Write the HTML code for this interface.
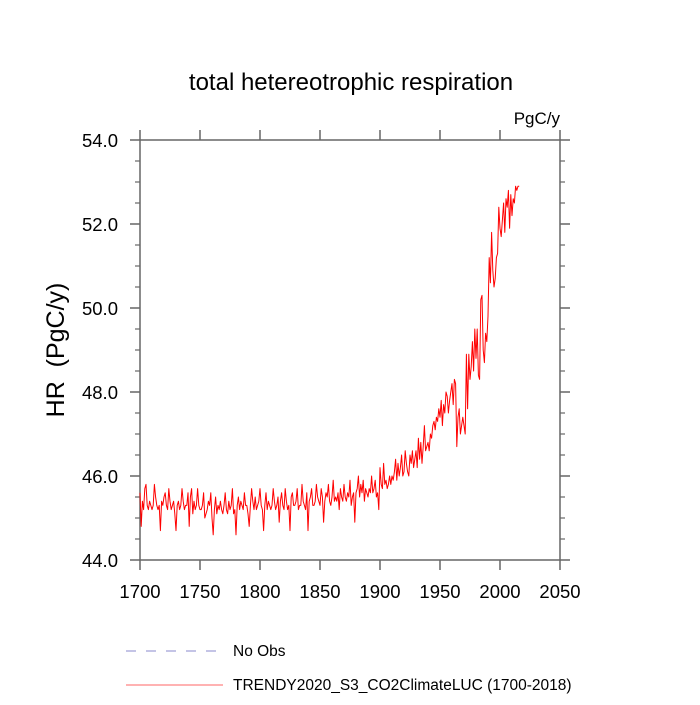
<!DOCTYPE html>
<html><head><meta charset="utf-8"><style>
body{margin:0;background:#fff;}
svg text{font-family:"Liberation Sans",sans-serif;fill:#000;}
</style></head><body>
<svg id="chart" width="700" height="700" viewBox="0 0 700 700" xmlns="http://www.w3.org/2000/svg">
<text x="351" y="90" font-size="24" text-anchor="middle">total hetereotrophic respiration</text>
<text x="560" y="124" font-size="17" text-anchor="end">PgC/y</text>
<text transform="translate(64,350) rotate(-90)" font-size="25" text-anchor="middle" xml:space="preserve">HR  (PgC/y)</text>
<g id="axes"></g>
<polyline id="series" fill="none" stroke="#ff0000" stroke-width="1" stroke-linejoin="round"/>
<g>
<line x1="126" y1="651" x2="220" y2="651" stroke="#8888cc" stroke-dasharray="10,10" stroke-width="1"/>
<text x="233" y="656" font-size="15.5">No Obs</text>
<line x1="126" y1="685" x2="223" y2="685" stroke="#ff6666" stroke-width="1"/>
<text x="233" y="690" font-size="15.5">TRENDY2020_S3_CO2ClimateLUC (1700-2018)</text>
</g>
</svg>
<script>
const startYear = 1700;
const hrValues = [
45.6,44.8,45.4,45.2,45.7,45.8,45.3,45.2,45.4,45.3,
45.2,45.3,45.8,45.5,45.3,45.2,45.3,44.7,45.4,45.3,
45.5,45.6,45.3,45.2,45.7,45.4,45.2,45.3,45.4,45.1,
44.7,45.3,45.4,45.2,45.3,45.7,45.4,45.2,45.3,45.3,
45.6,44.8,45.5,45.7,45.1,45.4,45.2,45.3,45.7,45.3,
45.2,45.2,45.3,45.6,45.0,45.1,45.2,45.4,45.3,45.6,
45.0,44.6,45.2,45.5,45.1,45.3,45.2,45.4,45.2,45.1,
45.3,45.6,45.2,45.1,45.4,45.2,45.3,45.7,45.1,45.2,
44.6,45.3,45.5,45.2,45.4,45.3,45.2,45.6,45.3,45.3,
45.1,44.8,45.3,45.7,45.4,45.2,45.5,45.2,45.3,45.4,
45.7,45.3,45.2,44.7,45.3,45.6,45.2,45.4,45.3,45.2,
45.3,45.7,45.4,45.2,45.3,45.5,44.9,45.4,45.6,45.3,
45.2,45.7,45.4,45.2,45.3,44.7,45.5,45.6,45.3,45.3,
45.4,45.7,45.2,45.3,45.3,45.8,45.4,45.3,45.2,45.6,
44.7,45.4,45.5,45.7,45.3,45.3,45.4,45.8,45.5,45.4,
45.3,45.7,45.5,44.9,45.4,45.6,45.5,45.8,45.4,45.3,
45.5,45.9,45.4,45.5,45.4,45.6,45.2,45.7,45.5,45.4,
45.8,45.5,45.4,45.6,45.5,45.9,45.3,45.5,45.6,44.9,
45.6,45.7,46.0,45.5,45.8,45.6,45.9,45.4,45.7,45.6,
45.5,45.7,45.6,46.0,45.6,45.7,45.9,45.5,45.6,45.2,
46.2,45.8,45.7,46.3,45.8,45.9,45.7,45.8,46.0,45.8,
46.0,45.9,46.1,46.4,45.9,46.3,46.0,46.2,46.5,46.0,
46.1,46.6,46.3,46.1,46.0,46.5,46.3,46.6,46.2,46.4,
46.6,46.2,46.9,46.4,46.8,46.3,46.7,47.2,46.6,46.7,
46.8,46.6,47.0,46.9,47.2,47.3,47.1,47.4,47.3,47.6,
47.4,47.8,47.2,47.7,47.5,48.0,47.9,47.5,47.8,48.0,
48.2,47.7,48.3,48.2,46.7,47.4,47.6,47.0,47.2,47.4,
47.2,47.0,48.9,47.6,48.9,48.3,48.6,49.2,48.5,49.5,
48.8,49.5,48.4,48.3,50.2,50.3,49.0,48.7,49.4,49.2,
49.8,51.2,50.6,51.8,50.9,50.5,50.7,51.2,51.3,52.4,
51.9,51.7,52.1,52.5,51.8,52.6,52.4,52.8,51.9,52.7,
52.2,52.6,52.5,52.9,52.8,52.9,52.9
];
const xTicks = [1700,1750,1800,1850,1900,1950,2000,2050];
const yTicks = [44,46,48,50,52,54];
const yTickLabels = ["44.0","46.0","48.0","50.0","52.0","54.0"];

const L=140,R=560,T=140,B=560;
const xS = v => L + (v-1700)/(2050-1700)*(R-L);
const yS = v => B - (v-44)/(54-44)*(B-T);
const NS="http://www.w3.org/2000/svg";
const ax=document.getElementById('axes');
function mk(tag,attrs){const e=document.createElementNS(NS,tag);for(const k in attrs)e.setAttribute(k,attrs[k]);ax.appendChild(e);return e;}
const st="#666";
const box=mk('rect',{x:L,y:T,width:R-L,height:B-T,fill:'none',stroke:st,'stroke-width':1.5});


xTicks.forEach(t=>{
  const x=xS(t);
  const a=mk('line',{x1:x,y1:B,x2:x,y2:B+10,stroke:st,'stroke-width':1.5});
  
  
  const b=mk('line',{x1:x,y1:T,x2:x,y2:T-10,stroke:st,'stroke-width':1.5});
  
  
  const tx=mk('text',{x:x,y:B+38,'font-size':18.5,'text-anchor':'middle'});
  tx.textContent=t;
  
  
});
yTicks.forEach((t,i)=>{
  const y=yS(t);
  const a=mk('line',{x1:L,y1:y,x2:L-10,y2:y,stroke:st,'stroke-width':1.5});
  
  
  const b=mk('line',{x1:R,y1:y,x2:R+10,y2:y,stroke:st,'stroke-width':1.5});
  
  
  const tx=mk('text',{x:L-22,y:y+7,'font-size':18.5,'text-anchor':'end'});
  tx.textContent=yTickLabels[i];
  
  
  if(i<yTicks.length-1){
    for(let k=1;k<4;k++){
      const yy=yS(t+k*0.5);
      const m=mk('line',{x1:L,y1:yy,x2:L-5,y2:yy,stroke:st,'stroke-width':1.2});
      
      
      const m2=mk('line',{x1:R,y1:yy,x2:R+5,y2:yy,stroke:st,'stroke-width':1.2});
      
      
    }
  }
});
document.getElementById('series').setAttribute('points',hrValues.map((v,i)=>xS(startYear+i).toFixed(1)+','+yS(v).toFixed(1)).join(' '));
</script>
</body></html>
